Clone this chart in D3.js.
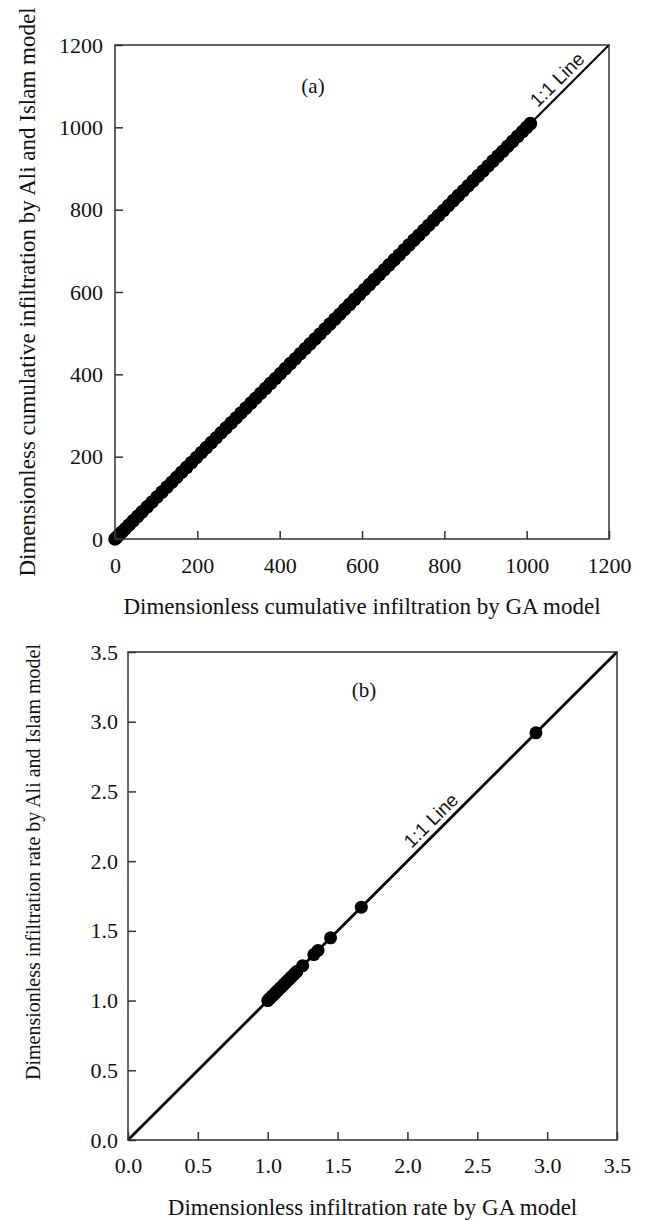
<!DOCTYPE html>
<html>
<head>
<meta charset="utf-8">
<script src="https://cdn.jsdelivr.net/npm/d3@7"></script>
<style>
  body { margin: 0; background: #fff; }
  .frame { fill: none; stroke: #333; stroke-width: 1.5; }
  .tick line { stroke: #333; stroke-width: 1.5; }
  .domain { display: none; }
</style>
</head>
<body>
<script>
var SERIF = "'Liberation Serif', 'Times New Roman', serif";

// (a) cumulative infiltration, GA vs Ali and Islam (points along the 1:1 band)
var cumGA  = [0, 4, 10, 17, 25, 34, 44, 55, 66, 78, 90, 102, 114, 126, 138, 150, 162, 174, 186, 198, 210, 222, 234, 246, 258, 270, 282, 294, 306, 318, 330, 342, 354, 366, 378, 390, 402, 414, 426, 438, 450, 462, 474, 486, 498, 510, 522, 534, 546, 558, 570, 582, 594, 606, 618, 630, 642, 654, 666, 678, 690, 702, 714, 726, 738, 750, 762, 774, 786, 798, 810, 822, 834, 846, 858, 870, 882, 894, 906, 918, 930, 942, 954, 966, 978, 990, 1000, 1009];
var cumAli = [0, 4, 10, 17, 25, 34, 44, 55, 66, 78, 90, 102, 114, 126, 138, 150, 162, 174, 186, 198, 210, 222, 234, 246, 258, 270, 282, 294, 306, 318, 330, 342, 354, 366, 378, 390, 402, 414, 426, 438, 450, 462, 474, 486, 498, 510, 522, 534, 546, 558, 570, 582, 594, 606, 618, 630, 642, 654, 666, 678, 690, 702, 714, 726, 738, 750, 762, 774, 786, 798, 810, 822, 834, 846, 858, 870, 882, 894, 906, 918, 930, 942, 954, 966, 978, 990, 1000, 1009];
var cumTicks = [0, 200, 400, 600, 800, 1000, 1200];

// (b) infiltration rate
var rateGA  = [1.00, 1.01, 1.02, 1.03, 1.04, 1.05, 1.06, 1.07, 1.08, 1.09, 1.10, 1.11, 1.12, 1.13, 1.14, 1.15, 1.16, 1.17, 1.18, 1.19, 1.20, 1.21, 1.25, 1.33, 1.36, 1.45, 1.67, 2.92];
var rateAli = [1.00, 1.01, 1.02, 1.03, 1.04, 1.05, 1.06, 1.07, 1.08, 1.09, 1.10, 1.11, 1.12, 1.13, 1.14, 1.15, 1.16, 1.17, 1.18, 1.19, 1.20, 1.21, 1.25, 1.33, 1.36, 1.45, 1.67, 2.92];
var rateTicks = [0, 0.5, 1.0, 1.5, 2.0, 2.5, 3.0, 3.5];

var svg = d3.select("body").append("svg").attr("width", 646).attr("height", 1221);

function panel(o) {
  var x = d3.scaleLinear().domain(o.domain).range([o.left, o.right]);
  var y = d3.scaleLinear().domain(o.domain).range([o.bottom, o.top]);
  var g = svg.append("g");

  // 1:1 line
  g.append("line")
    .attr("x1", x(o.domain[0])).attr("y1", y(o.domain[0]))
    .attr("x2", x(o.domain[1])).attr("y2", y(o.domain[1]))
    .attr("stroke", "#000").attr("stroke-width", o.lineW);

  g.selectAll("circle.pt").data(o.xs).enter().append("circle")
    .attr("class", "pt")
    .attr("cx", function(d) { return x(d); })
    .attr("cy", function(d, i) { return y(o.ys[i]); })
    .attr("r", o.r)
    .attr("fill", "#000");

  g.append("g")
    .attr("transform", "translate(0," + o.bottom + ")")
    .call(d3.axisBottom(x).tickValues(o.ticks).tickFormat(o.fmt).tickSizeInner(-8).tickSizeOuter(0).tickPadding(o.padX));

  g.append("g")
    .attr("transform", "translate(" + o.left + ",0)")
    .call(d3.axisLeft(y).tickValues(o.ticks).tickFormat(o.fmt).tickSizeInner(-8).tickSizeOuter(0).tickPadding(o.padY));

  g.selectAll(".tick text")
    .attr("fill", "#111")
    .style("font-family", SERIF)
    .style("font-size", o.fs + "px");

  g.append("rect").attr("class", "frame")
    .attr("x", o.left).attr("y", o.top)
    .attr("width", o.right - o.left).attr("height", o.bottom - o.top);

  // 1:1 label
  var ang = -Math.atan((o.bottom - o.top) / (o.right - o.left)) * 180 / Math.PI;
  g.append("text")
    .attr("transform", "translate(" + x(o.lab) + "," + y(o.lab) + ") rotate(" + ang + ")")
    .attr("text-anchor", "middle")
    .attr("dy", "-0.3em")
    .attr("fill", "#111")
    .style("font-family", "'Liberation Sans', Arial, sans-serif")
    .style("font-size", "19px")
    .text("1:1 Line");

  g.append("text")
    .attr("x", o.tag[0]).attr("y", o.tag[1])
    .attr("text-anchor", "middle")
    .attr("fill", "#111")
    .style("font-family", SERIF)
    .style("font-size", "21px")
    .text(o.tagText);

  g.append("text")
    .attr("x", (o.left + o.right) / 2).attr("y", o.xTitleY)
    .attr("text-anchor", "middle")
    .attr("fill", "#111")
    .style("font-family", SERIF)
    .style("font-size", o.xfs + "px")
    .text(o.xTitle);

  g.append("text")
    .attr("transform", "translate(" + o.yTitleX + "," + o.yTitleC + ") rotate(-90)")
    .attr("text-anchor", "middle")
    .attr("fill", "#111")
    .style("font-family", SERIF)
    .style("font-size", o.yfs + "px")
    .text(o.yTitle);
}

panel({
  domain: [0, 1200], left: 115, right: 609, top: 45, bottom: 539,
  xs: cumGA, ys: cumAli, ticks: cumTicks, fmt: d3.format("d"),
  r: 6.8, lineW: 2, fs: 22, xfs: 23, yfs: 23, padX: 18, padY: 12, lab: 1095,
  tag: [313, 93], tagText: "(a)",
  xTitle: "Dimensionless cumulative infiltration by GA model", xTitleY: 614,
  yTitle: "Dimensionless cumulative infiltration by Ali and Islam model", yTitleX: 35, yTitleC: 292
});

panel({
  domain: [0, 3.5], left: 128, right: 617, top: 652, bottom: 1140,
  xs: rateGA, ys: rateAli, ticks: rateTicks, fmt: d3.format(".1f"),
  r: 6.5, lineW: 2.8, fs: 22, xfs: 23, yfs: 20, padX: 17, padY: 10, lab: 2.23,
  tag: [364, 697], tagText: "(b)",
  xTitle: "Dimensionless infiltration rate by GA model", xTitleY: 1215,
  yTitle: "Dimensionless infiltration rate by Ali and Islam model", yTitleX: 40, yTitleC: 862
});
</script>
</body>
</html>
